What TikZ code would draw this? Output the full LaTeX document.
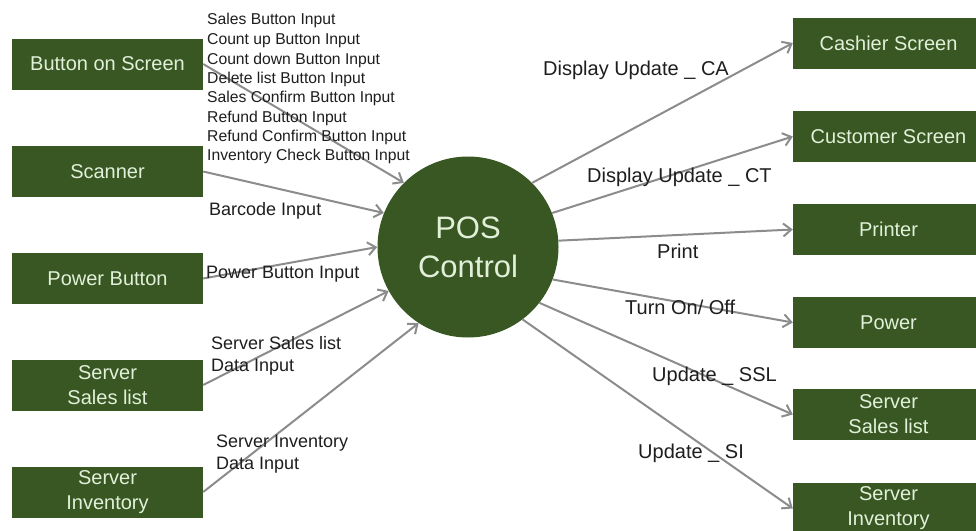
\documentclass[tikz,border=0pt]{standalone}
\usepackage{fontspec}
\setmainfont{Liberation Sans}
\usetikzlibrary{arrows.meta}
\definecolor{boxgreen}{RGB}{56,87,35}
\definecolor{boxtext}{RGB}{226,240,217}
\definecolor{linegray}{RGB}{140,140,140}
\definecolor{labeltext}{RGB}{30,30,30}
\begin{document}
\begin{tikzpicture}[x=1pt,y=-1pt,
  entity/.style={rectangle, fill=boxgreen, text=boxtext, minimum width=191pt, minimum height=51pt, inner sep=0pt, align=center, font=\fontsize{20}{25}\selectfont},
  hub/.style={circle, fill=boxgreen, text=boxtext, minimum size=181pt, inner sep=0pt, align=center, font=\fontsize{31}{39}\selectfont},
  flow/.style={draw=linegray, line width=2pt, -{Straight Barb[length=8pt,width=13pt]}},
  lbl/.style={anchor=west, inner sep=0pt, text=labeltext, text depth=0pt},
  smalllbl/.style={lbl, text height=11.3pt, font=\fontsize{15.7}{19}\selectfont},
  midlbl/.style={lbl, text height=13pt, font=\fontsize{18}{22}\selectfont},
  biglbl/.style={lbl, text height=14.4pt, font=\fontsize{20}{24}\selectfont},
]
\useasboundingbox (0,0) rectangle (976,530);
\fill[white] (0,0) rectangle (976,530);

% hub
\node[hub] (pos) at (468,247) {POS\\Control};

% left entities
\node[entity] (bos)  at (107.5,64)    {Button on Screen};
\node[entity] (scan) at (107.5,171.5) {Scanner};
\node[entity] (pbtn) at (107.5,278.5) {Power Button};
\node[entity] (lssl) at (107.5,385)   {Server\\Sales list};
\node[entity] (lsi)  at (107.5,492)   {Server\\Inventory};

% right entities
\node[entity] (cash) at (888.5,43)    {Cashier Screen};
\node[entity] (cust) at (888.5,136.5) {Customer Screen};
\node[entity] (prn)  at (888.5,229.5) {Printer};
\node[entity] (pwr)  at (888.5,322.5) {Power};
\node[entity] (rssl) at (888.5,414.5) {Server\\Sales list};
\node[entity] (rsi)  at (888.5,508.5) {Server\\Inventory};

% incoming flows
\draw[flow] (bos.east)  -- (pos.135);
\draw[flow] (scan.east) -- (pos.158);
\draw[flow] (pbtn.east) -- (pos.180);
\draw[flow] (lssl.east) -- (pos.209);
\draw[flow] (lsi.east)  -- (pos.237);

% outgoing flows
\draw[flow] (pos.45)  -- (cash.west);
\draw[flow] (pos.22)  -- (cust.west);
\draw[flow] (pos.4)   -- (prn.west);
\draw[flow] (pos.339) -- (pwr.west);
\draw[flow] (pos.322) -- (rssl.west);
\draw[flow] (pos.307) -- (rsi.west);

% button labels
\node[smalllbl] (b1) at (207,19.3)  {Sales Button Input};
\node[smalllbl] (b2) at (207,39.3)  {Count up Button Input};
\node[smalllbl] (b3) at (207,58.7)  {Count down Button Input};
\node[smalllbl] (b4) at (207,78)    {Delete list Button Input};
\node[smalllbl] (b5) at (207,97.3)  {Sales Confirm Button Input};
\node[smalllbl] (b6) at (207,116.7) {Refund Button Input};
\node[smalllbl] (b7) at (207,135.7) {Refund Confirm Button Input};
\node[smalllbl] (b8) at (207,155)   {Inventory Check Button Input};

% other input labels
\node[midlbl] (l1)  at (209,209) {Barcode Input};
\node[midlbl] (l2)  at (206,272) {Power Button Input};
\node[midlbl] (l3a) at (211,343) {Server Sales list};
\node[midlbl] (l3b) at (211,365) {Data Input};
\node[midlbl] (l4a) at (216,441) {Server Inventory};
\node[midlbl] (l4b) at (216,463) {Data Input};

% output labels
\node[biglbl] (r1) at (543,68)  {Display Update \_ CA};
\node[biglbl] (r2) at (587,175) {Display Update \_ CT};
\node[biglbl] (r3) at (657,251) {Print};
\node[biglbl] (r4) at (625,307) {Turn On/ Off};
\node[biglbl] (r5) at (652,374) {Update \_ SSL};
\node[biglbl] (r6) at (638,451) {Update \_ SI};
\end{tikzpicture}
\end{document}
